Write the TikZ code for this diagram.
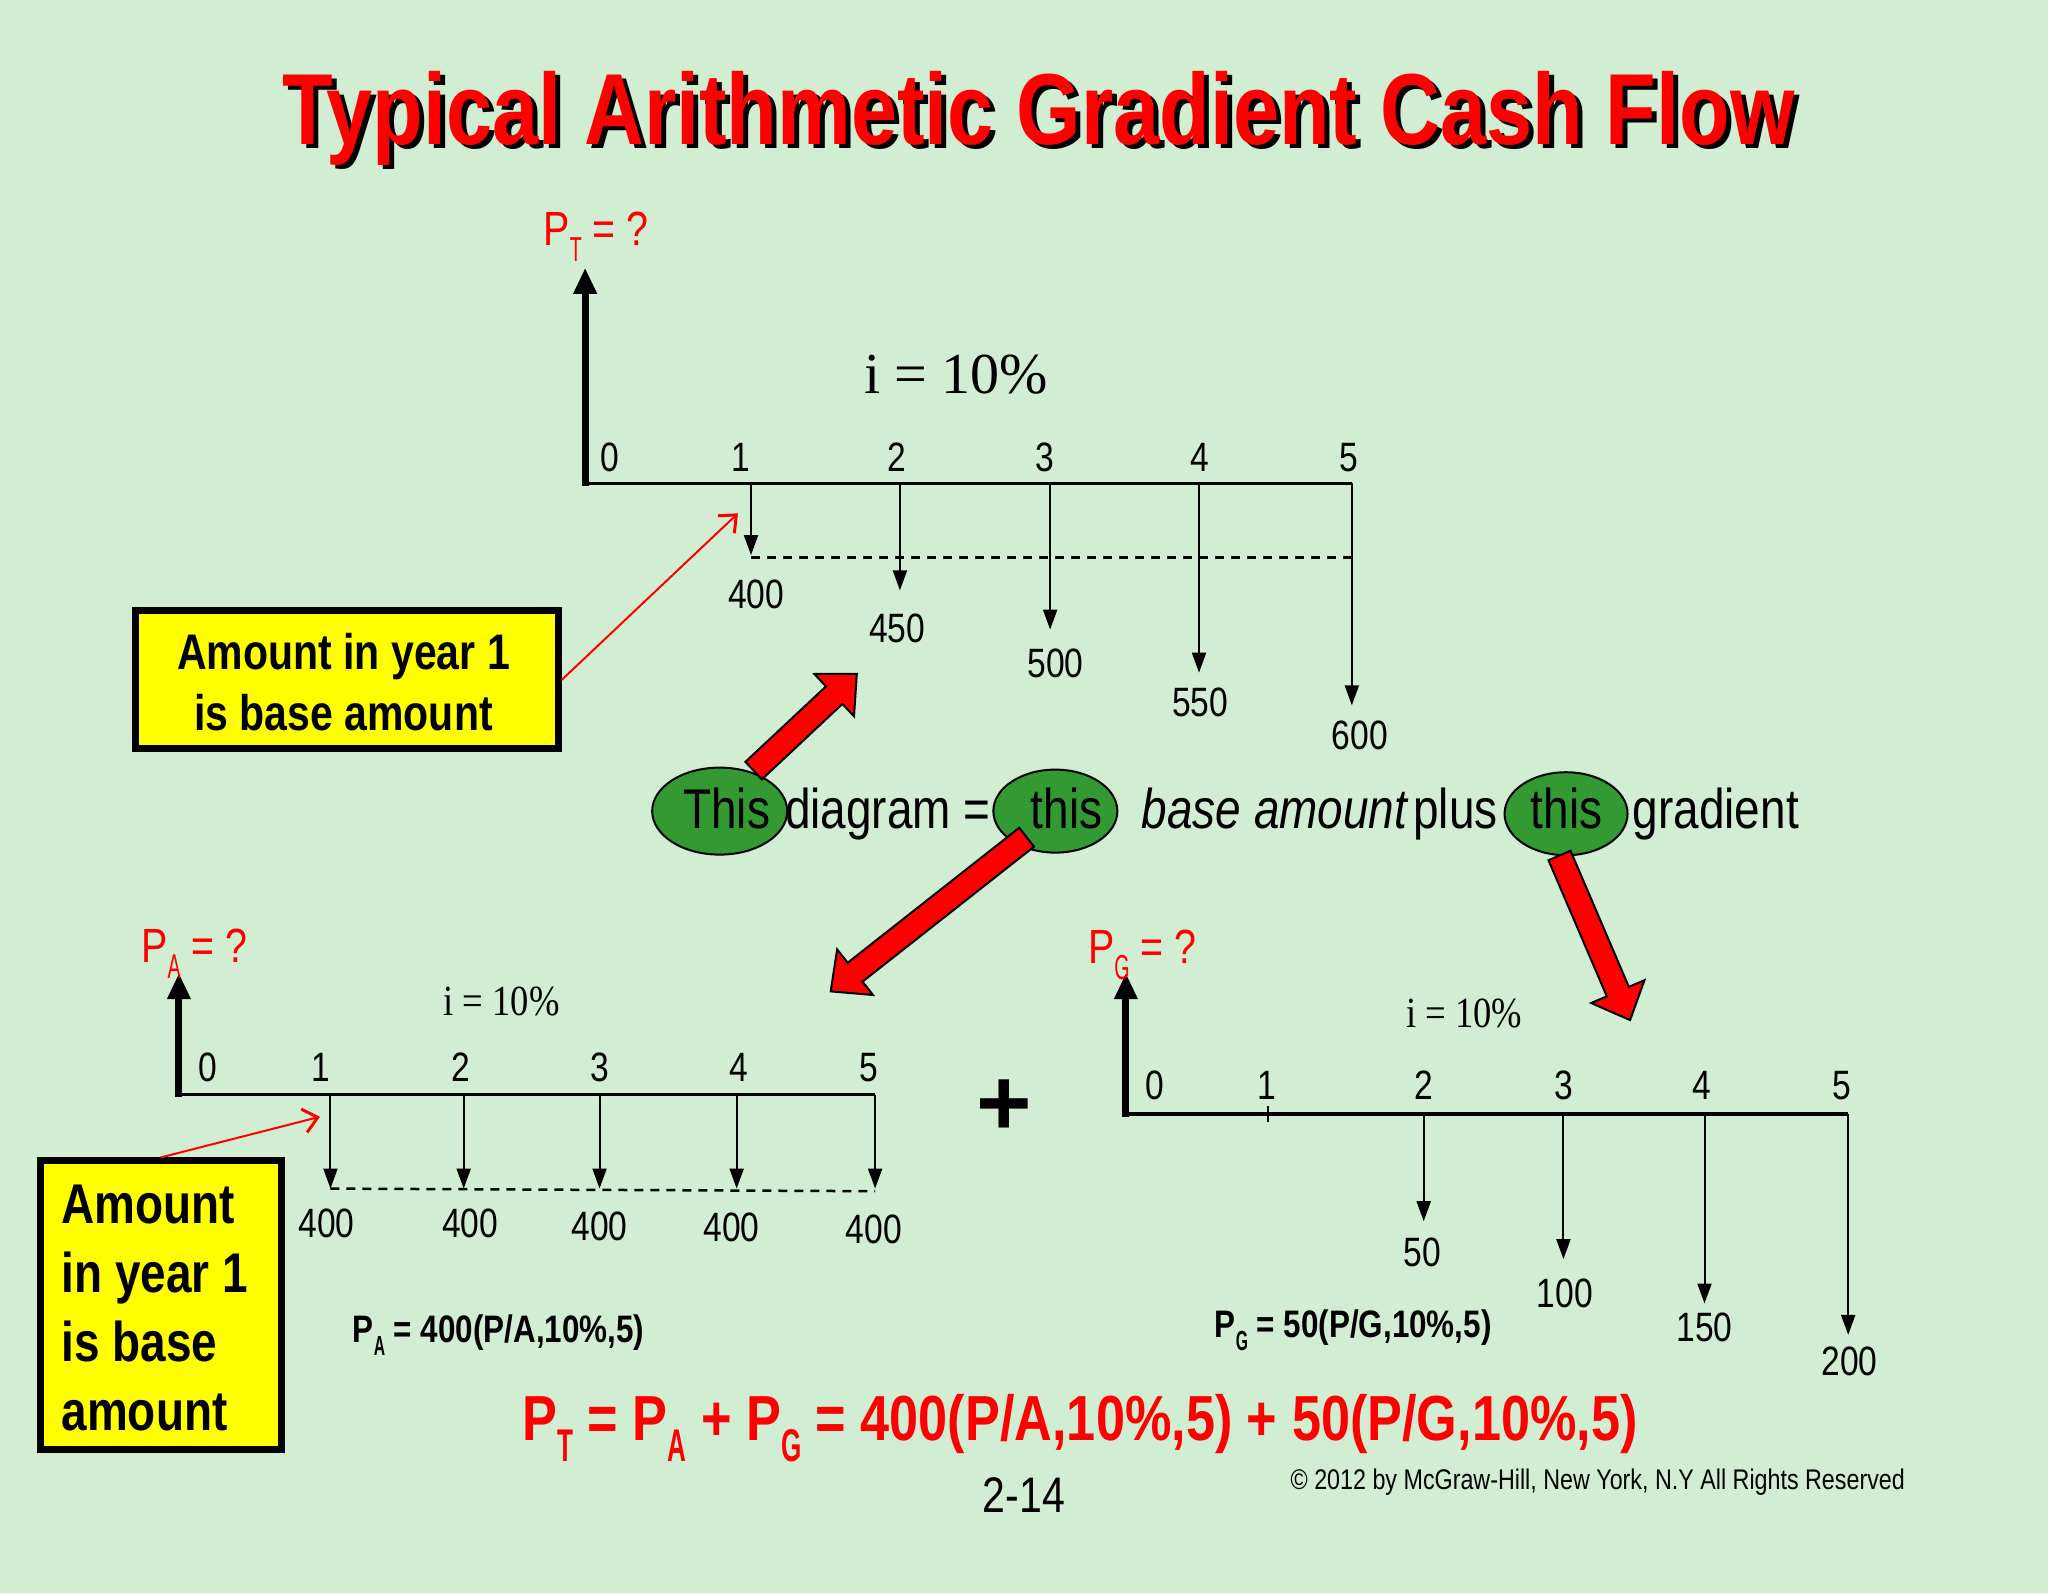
\documentclass[tikz,border=0pt]{standalone}
\usepackage{fontspec}
\setmainfont{Liberation Sans}
\newfontfamily\nar{Liberation Sans}[FakeStretch=0.82]
\newfontfamily\ser{Liberation Serif}
\newfontfamily\sern{Liberation Serif}[FakeStretch=0.85]
\usetikzlibrary{arrows.meta,shapes.geometric,calc}
\definecolor{bg}{RGB}{210,238,210}
\definecolor{dgreen}{RGB}{51,153,51}
\definecolor{yel}{RGB}{255,255,0}
\newcommand\sub[1]{\raisebox{-0.33em}{\scalebox{0.5}[0.72]{#1}}}
\newcommand\fsz[2]{\fontsize{#1pt}{#2pt}\selectfont}
\newcommand\titletext{Typical Arithmetic Gradient Cash Flow}
\tikzset{
 lbl/.style={font=\nar\fsz{41}{45}, inner sep=0},
 flow/.style={line width=2pt, -{Triangle[width=14pt,length=20pt]}},
 axisline/.style={line width=3.5pt},
 pvec/.style={line width=7pt, -{Triangle[width=22pt,length=26pt]}},
 dashline/.style={line width=2.5pt, dash pattern=on 9pt off 7pt},
 callout/.style={red, line width=2pt, -{Straight Barb[width=24pt,length=14pt,line width=3pt]}},
 ybox/.style={draw=black, line width=7pt, fill=yel, inner sep=0},
 bubble/.style={ellipse, draw=black, line width=2pt, fill=dgreen, inner sep=0},
 bigarrow/.style={fill=red, draw=black, line width=2pt, line join=miter},
 redlbl/.style={red, font=\nar\fsz{48}{50}, inner sep=0, anchor=base west},
 word/.style={font=\nar\fsz{56}{60}, inner sep=0, anchor=base west},
}
\newcommand\blockarrow[2]{%
 \path ($(#2)!31pt!(#1)$) coordinate (#2-n);
 \draw[bigarrow] ($(#1)!12pt!90:(#2)$) -- ($(#2-n)!12pt!90:(#2)$) -- ($(#2-n)!29pt!90:(#2)$) -- (#2)
   -- ($(#2-n)!29pt!-90:(#2)$) -- ($(#2-n)!12pt!-90:(#2)$) -- ($(#1)!12pt!-90:(#2)$) -- cycle;}
\begin{document}
\begin{tikzpicture}[x=1.3061pt,y=-1.3061pt]
\fill[bg] (0,0) rectangle (1568,1220);
\useasboundingbox (0,0) rectangle (1568,1220);
% title with drop shadow, as one text
\node[anchor=base, inner sep=0, font=\nar\bfseries\fsz{101}{101}] (title) at (795,111)
  {\makebox[0pt][l]{\hspace{5pt}\raisebox{-4pt}{\color{black}\titletext}}\color{red}\titletext};

% ---------- top diagram
\coordinate (T0) at (448,372);
\coordinate (Ttip) at (448,205);
\coordinate (Tax0) at (446,370);
\coordinate (Tax5) at (1035,370);
\draw[pvec] (T0) -- (Ttip);
\draw[axisline] (Tax0) -- (Tax5);
\foreach \i/\x/\y in {1/575/425, 2/689/452, 3/804/482, 4/918/515, 5/1035/540}{
  \coordinate (Ta\i) at (\x,370); \coordinate (Tb\i) at (\x,\y);
  \draw[flow] (Ta\i) -- (Tb\i);}
\coordinate (Td1) at (575,427); \coordinate (Td2) at (1040,427);
\draw[dashline] (Td1) -- (Td2);
\foreach \i/\x in {0/467,1/567,2/687,3/800,4/919,5/1033}
  \node[lbl] (Tn\i) at (\x,350) {\i};
\foreach \v/\x/\y in {400/579/455, 450/687/481, 500/808/508, 550/919/538, 600/1041/563}
  \node[lbl] (Tv\v) at (\x,\y) {\v};
\node[redlbl] (PT) at (416,188) {P\sub{T} = ?};
\node[font=\ser\fsz{58}{60}, inner sep=0] (iT) at (732,287) {i = 10\%};

% top yellow box
\node[ybox, minimum width=423pt, minimum height=138pt] (box1) at (265.5,520.5) {};
\node[font=\nar\bfseries\fsz{50}{61}, align=center, inner sep=0] (box1t) at (263,522) {Amount in year 1\\is base amount};
\coordinate (c1e) at (565,393);
\draw[callout] (box1.east) -- (c1e);

% ---------- middle line
\node[bubble, minimum width=135pt, minimum height=87pt] (e1) at (551,621) {};
\node[bubble, minimum width=124pt, minimum height=83pt] (e2) at (808,621) {};
\node[bubble, minimum width=123pt, minimum height=83pt] (e3) at (1199,623) {};
\coordinate (a1t) at (577,590); \coordinate (a1h) at (656,516);
\coordinate (a2t) at (786,641); \coordinate (a2h) at (636,759);
\coordinate (a3t) at (1194,655); \coordinate (a3h) at (1248,781);
\blockarrow{a1t}{a1h}
\blockarrow{a2t}{a2h}
\blockarrow{a3t}{a3h}
\node[word] (w1) at (523,634) {This};
\node[word] (w2) at (601,634) {diagram =};
\node[word] (w3) at (789,634) {this};
\node[word] (w4) at (874,634) {\itshape base amount};
\node[word] (w5) at (1082,634) {plus};
\node[word] (w6) at (1172,634) {this};
\node[word] (w7) at (1250,634) {gradient};

% ---------- bottom-left diagram
\coordinate (A0) at (137,840);
\coordinate (Atip) at (137,745);
\coordinate (Aax0) at (135,838);
\coordinate (Aax5) at (670,838);
\draw[pvec] (A0) -- (Atip);
\draw[axisline] (Aax0) -- (Aax5);
\foreach \i/\x in {1/253,2/355,3/459,4/564,5/670}{
  \coordinate (Aa\i) at (\x,838); \coordinate (Ab\i) at (\x,910);
  \draw[flow] (Aa\i) -- (Ab\i);}
\coordinate (Ad1) at (253,910); \coordinate (Ad2) at (670,912);
\draw[dashline] (Ad1) -- (Ad2);
\foreach \i/\x in {0/159,1/246,2/353,3/459,4/566,5/665}
  \node[lbl] (An\i) at (\x,817) {\i};
\foreach \j/\x/\y in {1/250/937, 2/360/937, 3/459/939, 4/560/940, 5/669/941}
  \node[lbl] (Av\j) at (\x,\y) {400};
\node[redlbl] (PA) at (108,737) {P\sub{A} = ?};
\node[font=\sern\fsz{43}{45}, inner sep=0] (iA) at (384,767) {i = 10\%};
\node[font=\nar\bfseries\fsz{38.3}{42}, inner sep=0, anchor=base west] (PAf) at (270,1028) {P\sub{A} = 400(P/A,10\%,5)};

% bottom yellow box
\node[ybox, minimum width=241pt, minimum height=289pt] (box2) at (123,999.5) {};
\node[font=\nar\bfseries\fsz{56}{69}, align=left, inner sep=0, anchor=north west] (box2t) at (47,907) {Amount\\in year 1\\is base\\amount};
\coordinate (c2e) at (245,855);
\draw[callout] (box2.north) -- (c2e);

% plus sign
\node[font=\bfseries\fsz{95}{95}, inner sep=0] (plus) at (769,848) {+};

% ---------- bottom-right diagram
\coordinate (G0) at (862,855);
\coordinate (Gtip) at (862,745);
\coordinate (Gax0) at (860,853);
\coordinate (Gax5) at (1415,853);
\draw[pvec] (G0) -- (Gtip);
\draw[axisline] (Gax0) -- (Gax5);
\coordinate (Gk1) at (971,847); \coordinate (Gk2) at (971,859);
\draw[line width=2pt] (Gk1) -- (Gk2);
\foreach \i/\x/\y in {2/1090/935, 3/1197/964, 4/1305/998, 5/1415/1022}{
  \coordinate (Ga\i) at (\x,853); \coordinate (Gb\i) at (\x,\y);
  \draw[flow] (Ga\i) -- (Gb\i);}
\foreach \i/\x in {0/884,1/970,2/1090,3/1197,4/1303,5/1410}
  \node[lbl] (Gn\i) at (\x,831) {\i};
\foreach \v/\x/\y in {50/1089/959, 100/1198/990, 150/1305/1016, 200/1416/1042}
  \node[lbl] (Gv\v) at (\x,\y) {\v};
\node[redlbl] (PG) at (833,738) {P\sub{G} = ?};
\node[font=\sern\fsz{43}{45}, inner sep=0] (iG) at (1121,776) {i = 10\%};
\node[font=\nar\bfseries\fsz{38.3}{42}, inner sep=0, anchor=base west] (PGf) at (930,1024) {P\sub{G} = 50(P/G,10\%,5)};

% ---------- bottom formula and footer
\node[red, font=\nar\bfseries\fsz{63.7}{66}, inner sep=0, anchor=base west] (PTf) at (400,1103) {P\sub{T} = P\sub{A} + P\sub{G} = 400(P/A,10\%,5) + 50(P/G,10\%,5)};
\node[font=\nar\fsz{50}{50}, inner sep=0] (page) at (784,1145) {2-14};
\node[font=\nar\fsz{28.4}{30}, inner sep=0, anchor=base west] (copy) at (988,1140) {© 2012 by McGraw-Hill, New York, N.Y All Rights Reserved};
\end{tikzpicture}
\end{document}
